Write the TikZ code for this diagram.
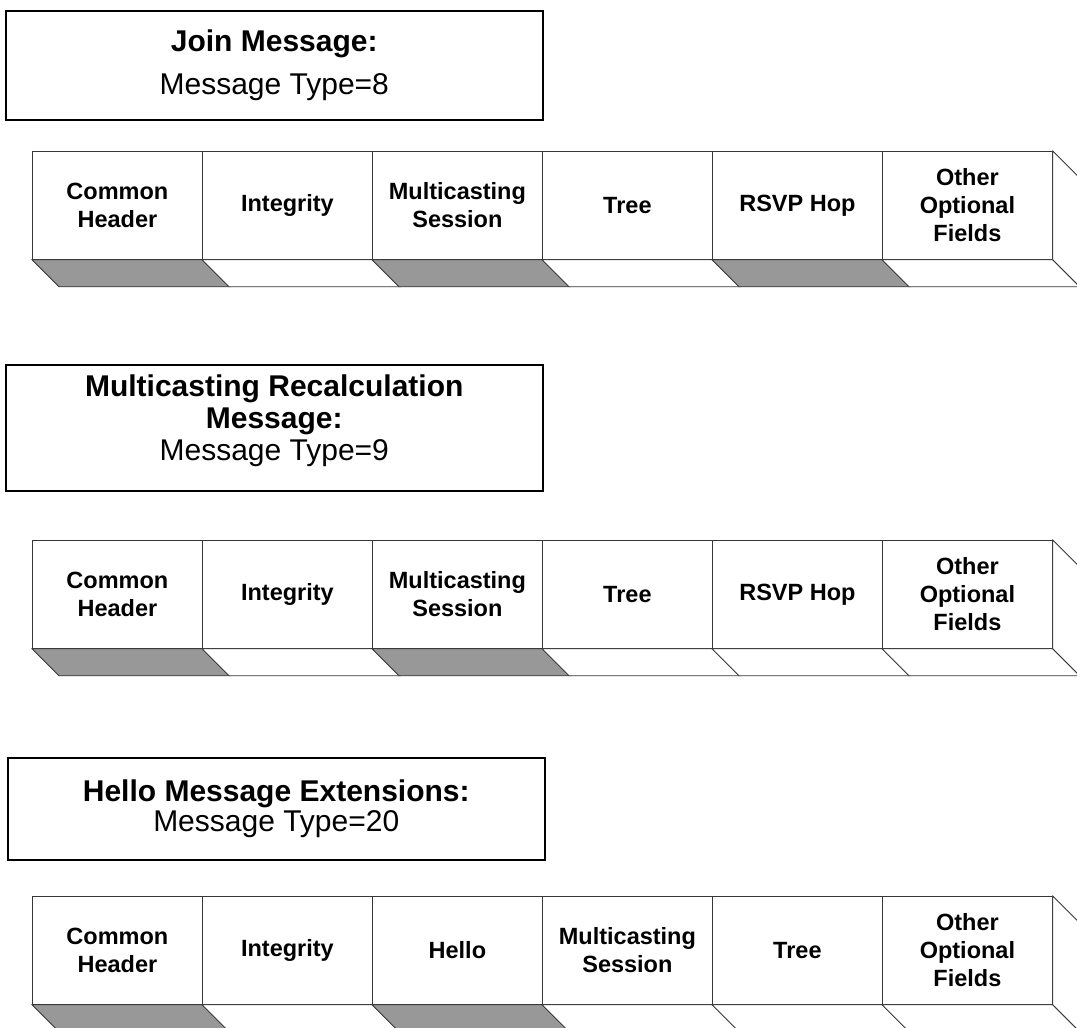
\documentclass[tikz,border=0pt]{standalone}
\usepackage{fontspec}
\setmainfont{Liberation Sans}
\begin{document}
\definecolor{facegray}{RGB}{152,152,152}
\definecolor{edgegray}{RGB}{55,55,55}
\begin{tikzpicture}[x=1pt,y=-1pt,
  titlebox/.style={draw=black, line width=1.5pt, anchor=north west,
    minimum width=537pt, inner sep=0pt, align=center},
  cell/.style={draw=edgegray, line width=0.8pt, anchor=north west,
    minimum width=170pt, minimum height=108pt, inner sep=0pt, align=center,
    font=\fontsize{23.5}{28}\selectfont\bfseries},
  shadeface/.style={fill=facegray, draw=edgegray, line width=0.8pt},
  plainface/.style={fill=white, draw=edgegray, line width=0.8pt},
]
\clip (0,0) rectangle (1077,1028);
\fill[white] (0,0) rectangle (1077,1028);

% ---------- titles ----------
\node[titlebox, minimum height=109pt, font=\fontsize{30}{43}\selectfont]
  (t1) at (5,10) {\textbf{Join Message:}\\Message Type=8};
\node[titlebox, minimum height=126pt, font=\fontsize{30}{32}\selectfont]
  (t2) at (5,364) {\textbf{Multicasting Recalculation}\\\textbf{Message:}\\Message Type=9\\[-12pt]\mbox{}};
\node[titlebox, minimum height=102pt, font=\fontsize{30}{30}\selectfont]
  (t3) at (7,757) {\textbf{Hello Message Extensions:}\\Message Type=20};

% ---------- one strip of fields: #1 prefix, #2 top y, #3 labels with shading flags ----------
\newcommand{\fieldstrip}[4]{%
  \foreach [count=\i] \lab/\shd in {#3} {
    \node[cell] (#1\i) at ({32+170*(\i-1)},#2) {\lab};
    \ifnum\shd=1
      \filldraw[shadeface] (#1\i.south west) -- (#1\i.south east)
        -- ([shift={(27,27)}]#1\i.south east) -- ([shift={(27,27)}]#1\i.south west) -- cycle;
    \else
      \filldraw[plainface] (#1\i.south west) -- (#1\i.south east)
        -- ([shift={(27,27)}]#1\i.south east) -- ([shift={(27,27)}]#1\i.south west) -- cycle;
    \fi
  }
  % right side face of the last field
  \filldraw[plainface] (#16.north east) -- ([shift={(27,27)}]#16.north east)
    -- ([shift={(27,27)}]#16.south east) -- (#16.south east) -- cycle;
}

\fieldstrip{a}{151}{Common\\Header/1, Integrity/0, Multicasting\\Session/1, Tree/0, RSVP Hop/1, Other\\Optional\\Fields/0}{}
\fieldstrip{b}{540}{Common\\Header/1, Integrity/0, Multicasting\\Session/1, Tree/0, RSVP Hop/0, Other\\Optional\\Fields/0}{}
\fieldstrip{c}{896}{Common\\Header/1, Integrity/0, Hello/1, Multicasting\\Session/0, Tree/0, Other\\Optional\\Fields/0}{}
\end{tikzpicture}
\end{document}
